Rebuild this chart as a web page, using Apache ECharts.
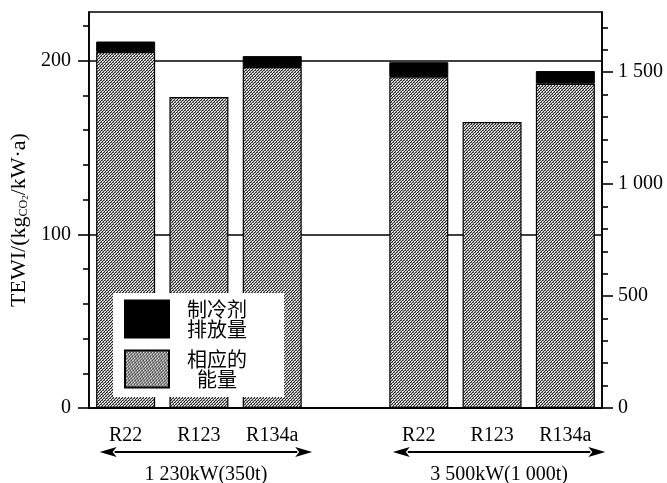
<!DOCTYPE html>
<html><head><meta charset="utf-8">
<script src="https://cdn.jsdelivr.net/npm/echarts@6/dist/echarts.min.js"></script>
<style>html,body{margin:0;padding:0;background:#fff}#c{width:667px;height:483px}</style>
</head><body><div id="c"></div>
<script>
// ---- data ----
const categories = ['R22', 'R123', 'R134a', '', 'R22', 'R123', 'R134a'];
const energy = [205, 179, 196.3, null, 190.5, 164.6, 186.7];
const emission = [6, null, 6.3, null, 8.6, null, 7.3];
const leftMajor = [0, 100, 200];
const leftMinor = [20, 40, 60, 80, 120, 140, 160, 180, 220];
const rightMajor = [0, 500, 1000, 1500];
const rightMinor = [100, 200, 300, 400, 600, 700, 800, 900, 1100, 1200, 1300, 1400, 1600, 1700];
const groupLabels = ['1 230kW(350t)', '3 500kW(1 000t)'];
const groupRanges = [[0, 2], [4, 6]];
const seriesNames = ['制冷剂\n排放量', '相应的\n能量'];
const leftMax = 228, rightMax = 1769;

const SERIF = 'Liberation Serif';
const CJK = 'Noto Sans CJK SC';

function makePattern() {
  const c = document.createElement('canvas');
  c.width = 6; c.height = 6;
  const g = c.getContext('2d');
  g.fillStyle = '#dadada'; g.fillRect(0, 0, 6, 6);
  for (let y = 0; y < 6; y++) for (let x = 0; x < 6; x++) {
    if ((x + y) % 3 === 0) { g.fillStyle = '#262626'; g.fillRect(x, y, 1, 1); }
    else if ((x + y) % 3 === 1 && y % 2 === 0) { g.fillStyle = '#6e6e6e'; g.fillRect(x, y, 1, 1); }
    else if ((x + 2 * y) % 6 === 2) { g.fillStyle = '#ffffff'; g.fillRect(x, y, 1, 1); }
  }
  return c;
}
const pattern = { image: makePattern(), repeat: 'repeat' };
const fmtThousands = v => String(v).replace(/\B(?=(\d{3})+(?!\d))/g, ' ');

const chart = echarts.init(document.getElementById('c'), null, { renderer: 'canvas' });
const axisLine = { show: true, lineStyle: { color: '#000', width: 1.6 } };

chart.setOption({
  animation: false,
  backgroundColor: '#fff',
  grid: { left: 89, right: 65, top: 12, bottom: 75, show: true, borderColor: '#000', borderWidth: 1.6, backgroundColor: 'transparent' },
  legend: {
    data: [seriesNames[0], seriesNames[1]],
    orient: 'vertical', left: 113, top: 293,
    backgroundColor: '#fff', padding: [6, 36, 8, 11],
    itemWidth: 44, itemHeight: 37, itemGap: 10, icon: 'rect',
    selectedMode: false,
    textStyle: {
      color: '#000', fontFamily: CJK, fontSize: 20, lineHeight: 20,
      rich: { a: { width: 62, align: 'center', fontFamily: CJK, fontSize: 20, lineHeight: 20, color: '#000', padding: [0, 0, 0, 12] } }
    },
    formatter: n => n.split('\n').map(s => '{a|' + s + '}').join('\n')
  },
  xAxis: {
    type: 'category', data: categories,
    axisLine: axisLine, axisTick: { show: false },
    axisLabel: { color: '#000', fontFamily: SERIF, fontSize: 20, margin: 18, interval: 0 },
    splitLine: { show: false }
  },
  yAxis: [
    {
      type: 'value', min: 0, max: leftMax, interval: 100, position: 'left',
      name: 'TEWI/(kg{s|CO}{t|2}/kW·a)', nameLocation: 'middle', nameGap: 56,
      nameTextStyle: {
        color: '#000', fontFamily: SERIF, fontSize: 22, padding: [0, 20, 0, 0],
        rich: {
          s: { fontFamily: SERIF, fontSize: 12, verticalAlign: 'bottom', color: '#000', padding: [9, 0, 0, 0] },
          t: { fontFamily: SERIF, fontSize: 9, verticalAlign: 'bottom', color: '#000', padding: [11, 0, 0, 0] }
        }
      },
      axisLine: axisLine,
      axisTick: { show: true, length: 11, lineStyle: { color: '#000', width: 1.6 }, customValues: leftMajor },
      axisLabel: { color: '#000', fontFamily: SERIF, fontSize: 20, margin: 18, customValues: leftMajor },
      splitLine: { show: true, lineStyle: { color: '#000', width: 1.6 } }
    },
    {
      type: 'value', min: 0, max: leftMax, position: 'left',
      axisLine: { show: false },
      axisTick: { show: true, length: 6, lineStyle: { color: '#000', width: 1.6 }, customValues: leftMinor },
      axisLabel: { show: false }, splitLine: { show: false }
    },
    {
      type: 'value', min: 0, max: rightMax, interval: 500, position: 'right',
      axisLine: axisLine,
      axisTick: { show: true, length: 11, lineStyle: { color: '#000', width: 1.6 }, customValues: rightMajor },
      axisLabel: { color: '#000', fontFamily: SERIF, fontSize: 20, margin: 16, customValues: rightMajor, formatter: fmtThousands },
      splitLine: { show: false }
    },
    {
      type: 'value', min: 0, max: rightMax, position: 'right',
      axisLine: { show: false },
      axisTick: { show: true, length: 6, lineStyle: { color: '#000', width: 1.6 }, customValues: rightMinor },
      axisLabel: { show: false }, splitLine: { show: false }
    }
  ],
  series: [
    {
      name: seriesNames[1], type: 'bar', stack: 'tewi', yAxisIndex: 0, data: energy, barWidth: 59,
      itemStyle: { color: pattern, borderColor: '#000', borderWidth: 1.2 }
    },
    {
      name: seriesNames[0], type: 'bar', stack: 'tewi', yAxisIndex: 0, data: emission, barWidth: 59,
      itemStyle: { color: '#000', borderColor: '#000', borderWidth: 1 }
    }
  ]
});

// ---- group arrows & labels ----
const arrowY = 452, textY = 475;
const gfx = [];
groupRanges.forEach((r, i) => {
  const xa = chart.convertToPixel({ xAxisIndex: 0 }, r[0]) - 26;
  const xb = chart.convertToPixel({ xAxisIndex: 0 }, r[1]) + 40;
  const head = 17, hw = 5;
  gfx.push({ type: 'line', shape: { x1: xa + head - 2, y1: arrowY, x2: xb - head + 2, y2: arrowY }, style: { stroke: '#000', lineWidth: 2 } });
  gfx.push({ type: 'polygon', shape: { points: [[xa, arrowY], [xa + head, arrowY - hw], [xa + head - 4, arrowY], [xa + head, arrowY + hw]] }, style: { fill: '#000' } });
  gfx.push({ type: 'polygon', shape: { points: [[xb, arrowY], [xb - head, arrowY - hw], [xb - head + 4, arrowY], [xb - head, arrowY + hw]] }, style: { fill: '#000' } });
  gfx.push({ type: 'text', x: (xa + xb) / 2, y: textY, style: { text: groupLabels[i], fill: '#000', font: '20px "' + SERIF + '"', align: 'center', verticalAlign: 'middle' } });
});
chart.setOption({ graphic: gfx });
</script>
</body></html>
